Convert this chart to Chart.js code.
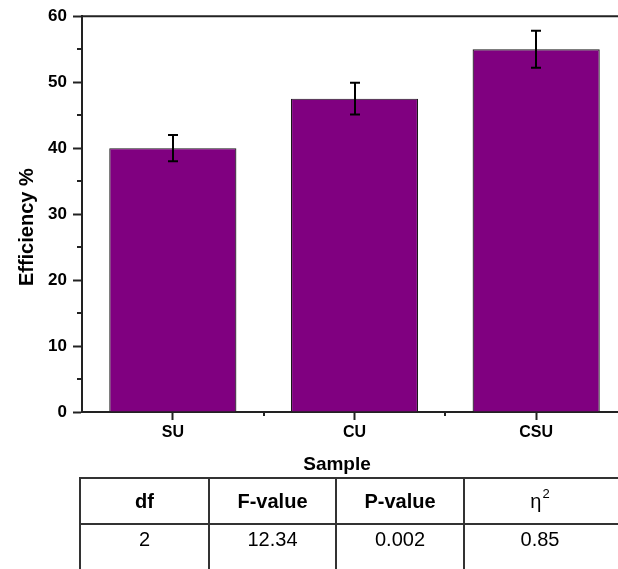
<!DOCTYPE html>
<html>
<head>
<meta charset="utf-8">
<script src="https://cdn.jsdelivr.net/npm/chart.js@4.4.1/dist/chart.umd.min.js"></script>
<style>
  html, body { margin: 0; padding: 0; background: #fff; overflow: hidden; }
  #wrap { position: relative; width: 618px; height: 569px; overflow: hidden; background: #fff; }
  #plot { position: absolute; left: 0; top: 0; }
  .stats { position: absolute; left: 0; top: 0; font-family: "Liberation Sans", Arial, sans-serif; color: #000; }
  .hl, .vl { position: absolute; background: #333; }
  .cell { position: absolute; display: flex; align-items: center; justify-content: center; font-size: 20px; line-height: 1; }
  .cell.head { font-weight: bold; }
  .cell .sup { font-size: 13px; position: relative; top: -8px; margin-left: 1px; font-weight: normal; }
</style>
</head>
<body>
<div id="wrap">
  <canvas id="plot" width="640" height="478"></canvas>
  <div class="stats" id="stats"></div>
</div>
<script>
// Bar values and their error ranges
const categories = ['SU', 'CU', 'CSU'];
const efficiency = [40, 47.5, 55];
const efficiencyError = [2, 2.4, 2.8];

// Axis range and titles
const yMin = 0, yMax = 60, yStep = 10;
const yTitle = 'Efficiency %';
const xTitle = 'Sample';

// Statistics table
const statHeaders = ['df', 'F-value', 'P-value', 'η|2'];
const statValues = ['2', '12.34', '0.002', '0.85'];

const FONT = '"Liberation Sans", Arial, sans-serif';
const AXIS_COLOR = '#222';

// Minor ticks, frame line and axis titles
const decorations = {
  id: 'decorations',
  afterDraw(chart) {
    const ctx = chart.ctx;
    const area = chart.chartArea;
    const xs = chart.scales.x, ys = chart.scales.y;
    ctx.save();
    ctx.strokeStyle = AXIS_COLOR;
    ctx.lineWidth = 2;
    // top frame line
    ctx.beginPath();
    ctx.moveTo(area.left, area.top);
    ctx.lineTo(chart.width, area.top);
    ctx.stroke();
    // minor y ticks
    for (let v = yMin + yStep / 2; v < yMax; v += yStep) {
      const py = Math.round(ys.getPixelForValue(v));
      ctx.beginPath();
      ctx.moveTo(area.left - 5, py);
      ctx.lineTo(area.left, py);
      ctx.stroke();
    }
    // minor x ticks between categories
    for (let i = 0; i < categories.length; i++) {
      const a = xs.getPixelForValue(i);
      const b = i + 1 < categories.length ? xs.getPixelForValue(i + 1) : 2 * a - xs.getPixelForValue(i - 1);
      const px = Math.round((a + b) / 2);
      ctx.beginPath();
      ctx.moveTo(px, area.bottom);
      ctx.lineTo(px, area.bottom + 4);
      ctx.stroke();
    }
    // axis titles
    ctx.fillStyle = '#000';
    ctx.textAlign = 'center';
    ctx.textBaseline = 'middle';
    ctx.font = 'bold 19px ' + FONT;
    ctx.fillText(xTitle, area.left + 255, area.bottom + 53);
    ctx.translate(27, area.top + 211);
    ctx.rotate(-Math.PI / 2);
    ctx.font = 'bold 20px ' + FONT;
    ctx.fillText(yTitle, 0, 0);
    ctx.restore();
  }
};

// Error bars with caps
const errorBars = {
  id: 'errorBars',
  afterDatasetsDraw(chart) {
    const ctx = chart.ctx;
    const ys = chart.scales.y;
    const meta = chart.getDatasetMeta(0);
    ctx.save();
    ctx.strokeStyle = '#000';
    ctx.lineWidth = 2;
    meta.data.forEach((bar, i) => {
      const x = Math.round(bar.x);
      const top = ys.getPixelForValue(efficiency[i] + efficiencyError[i]);
      const bot = ys.getPixelForValue(efficiency[i] - efficiencyError[i]);
      ctx.beginPath();
      ctx.moveTo(x, top); ctx.lineTo(x, bot);
      ctx.moveTo(x - 5, top); ctx.lineTo(x + 5, top);
      ctx.moveTo(x - 5, bot); ctx.lineTo(x + 5, bot);
      ctx.stroke();
    });
    ctx.restore();
  }
};

new Chart(document.getElementById('plot'), {
  type: 'bar',
  data: {
    labels: categories,
    datasets: [{
      data: efficiency,
      backgroundColor: '#800080',
      borderColor: '#1a1a1a',
      borderWidth: 1.2,
      categoryPercentage: 0.7,
      barPercentage: 1.0
    }]
  },
  options: {
    responsive: false,
    animation: false,
    devicePixelRatio: 1,
    layout: { padding: { top: 15, right: 13, bottom: 0, left: 0 } },
    plugins: { legend: { display: false }, tooltip: { enabled: false } },
    scales: {
      x: {
        grid: { display: true, offset: false, drawOnChartArea: false, drawTicks: true, tickLength: 8, tickWidth: 2, color: AXIS_COLOR },
        border: { display: true, color: AXIS_COLOR, width: 2 },
        ticks: { color: '#000', padding: 3, font: { family: FONT, size: 16, weight: 'bold' } },
        afterFit(s) { s.height = 66; }
      },
      y: {
        min: yMin, max: yMax,
        grid: { display: true, drawOnChartArea: false, drawTicks: true, tickLength: 9, tickWidth: 2, color: AXIS_COLOR },
        border: { display: true, color: AXIS_COLOR, width: 2 },
        ticks: { stepSize: yStep, color: '#000', padding: 6, font: { family: FONT, size: 17, weight: 'bold' } },
        afterFit(s) { s.width = 82; }
      }
    }
  },
  plugins: [errorBars, decorations]
});

// Statistics table below the chart
(function buildTable() {
  const box = document.getElementById('stats');
  const cols = [80, 209, 336, 464, 622];
  const rowTop = 478, rowMid = 524, rowBot = 570;
  const add = (cls, css, html) => {
    const d = document.createElement('div');
    d.className = cls;
    Object.assign(d.style, css);
    if (html !== undefined) d.innerHTML = html;
    box.appendChild(d);
    return d;
  };
  [rowTop, rowMid, rowBot].forEach(y => add('hl', { left: (cols[0] - 1) + 'px', top: (y - 1) + 'px', width: (cols[cols.length - 1] - cols[0] + 2) + 'px', height: '2px' }));
  cols.forEach(x => add('vl', { left: (x - 1) + 'px', top: (rowTop - 1) + 'px', width: '2px', height: (rowBot - rowTop + 2) + 'px' }));
  statHeaders.forEach((h, i) => {
    const parts = h.split('|');
    const html = parts.length > 1 ? '<span style="font-weight:normal">' + parts[0] + '</span><span class="sup">' + parts[1] + '</span>' : h;
    add('cell head', { left: cols[i] + 'px', width: (i === 3 ? 152 : cols[i + 1] - cols[i]) + 'px', top: rowTop + 'px', height: (rowMid - rowTop) + 'px' }, html);
  });
  statValues.forEach((v, i) => {
    add('cell', { left: cols[i] + 'px', width: (i === 3 ? 152 : cols[i + 1] - cols[i]) + 'px', top: rowMid + 'px', height: '30px' }, v);
  });
})();
</script>
</body>
</html>
